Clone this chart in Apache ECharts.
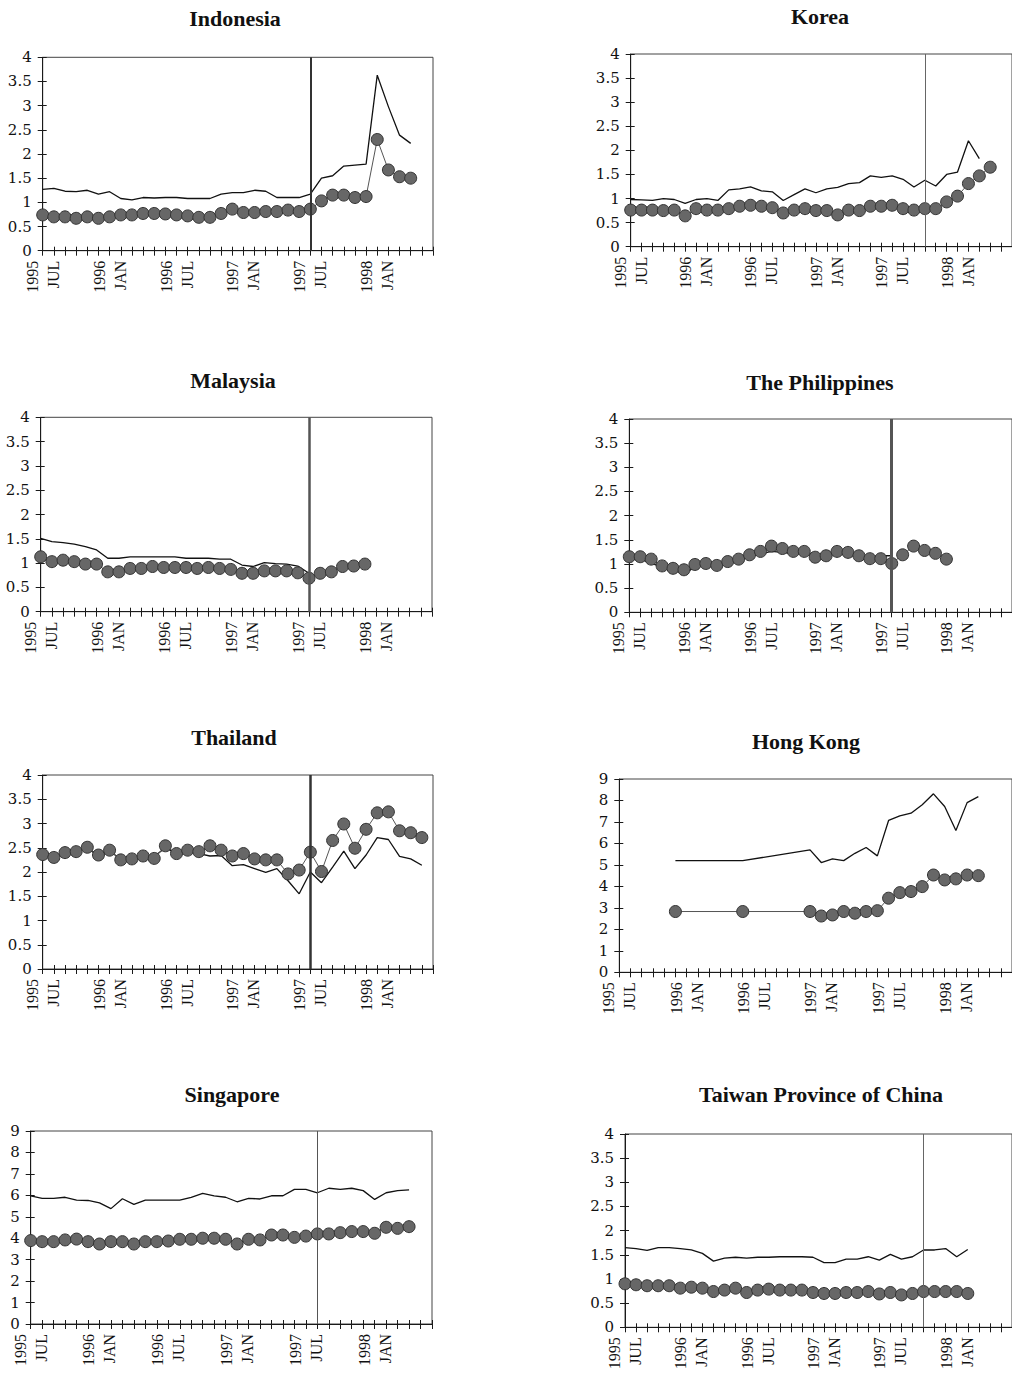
<!DOCTYPE html>
<html><head><meta charset="utf-8">
<script src="https://cdn.jsdelivr.net/npm/echarts@6/dist/echarts.min.js"></script>
<style>html,body{margin:0;padding:0;background:#fff}#c{width:1012px;height:1374px}</style>
</head><body><div id="c"></div>
<script>
const months = ['1995-07','1995-08','1995-09','1995-10','1995-11','1995-12',
 '1996-01','1996-02','1996-03','1996-04','1996-05','1996-06',
 '1996-07','1996-08','1996-09','1996-10','1996-11','1996-12',
 '1997-01','1997-02','1997-03','1997-04','1997-05','1997-06',
 '1997-07','1997-08','1997-09','1997-10','1997-11','1997-12',
 '1998-01','1998-02','1998-03','1998-04','1998-05','1998-06'];
const tickLabels = {'1995-07':'1995\nJUL','1996-01':'1996\nJAN','1996-07':'1996\nJUL','1997-01':'1997\nJAN','1997-07':'1997\nJUL','1998-01':'1998\nJAN'};

const idnLine = [1.27,1.29,1.23,1.22,1.25,1.17,1.22,1.08,1.05,1.10,1.09,1.10,1.10,1.08,1.08,1.08,1.17,1.20,1.20,1.25,1.23,1.10,1.10,1.10,1.17,1.50,1.55,1.75,1.77,1.79,3.63,2.98,2.39,2.22];
const idnDots = [0.74,0.70,0.70,0.67,0.70,0.67,0.70,0.74,0.74,0.77,0.77,0.76,0.74,0.72,0.69,0.69,0.77,0.86,0.79,0.79,0.81,0.81,0.84,0.81,0.86,1.03,1.15,1.15,1.10,1.12,2.30,1.67,1.53,1.50];

const korLine = [0.98,0.97,0.96,1.00,0.98,0.90,0.98,1.00,0.96,1.18,1.20,1.24,1.16,1.14,0.96,1.08,1.20,1.12,1.20,1.23,1.31,1.33,1.47,1.44,1.47,1.40,1.24,1.38,1.26,1.50,1.55,2.20,1.83];
const korDots = [0.76,0.76,0.76,0.75,0.76,0.64,0.79,0.76,0.76,0.79,0.84,0.86,0.84,0.81,0.70,0.76,0.79,0.75,0.75,0.66,0.76,0.75,0.84,0.84,0.86,0.79,0.76,0.79,0.79,0.93,1.05,1.31,1.47,1.65];

const mysLine = [1.51,1.44,1.42,1.39,1.34,1.27,1.10,1.10,1.13,1.13,1.13,1.13,1.13,1.10,1.10,1.10,1.08,1.08,0.96,0.93,1.01,0.99,0.98,0.94,0.79];
const mysDots = [1.13,1.03,1.06,1.03,0.98,0.98,0.82,0.82,0.89,0.89,0.93,0.91,0.91,0.91,0.89,0.91,0.89,0.87,0.79,0.79,0.84,0.84,0.84,0.80,0.69,0.79,0.82,0.93,0.94,0.98];

const phlLine = [1.10,1.10,1.01,0.94,0.88,0.79,0.94,0.98,0.94,1.01,1.07,1.15,1.21,1.26,1.24,1.21,1.21,1.15,1.17,1.21,1.19,1.15,1.15,1.17,1.17];
const phlDots = [1.15,1.15,1.10,0.96,0.91,0.88,0.99,1.01,0.97,1.05,1.10,1.19,1.26,1.37,1.32,1.26,1.26,1.14,1.17,1.26,1.24,1.17,1.11,1.11,1.01,1.19,1.37,1.28,1.22,1.10];

const thaLine = [2.36,2.30,2.40,2.42,2.49,2.33,2.44,2.26,2.27,2.33,2.32,2.50,2.38,2.42,2.38,2.33,2.34,2.13,2.15,2.07,1.99,2.07,1.82,1.55,2.00,1.78,2.10,2.43,2.07,2.35,2.71,2.67,2.32,2.27,2.14];
const thaDots = [2.36,2.30,2.40,2.42,2.51,2.35,2.45,2.25,2.27,2.33,2.28,2.54,2.38,2.45,2.42,2.54,2.45,2.33,2.38,2.27,2.25,2.25,1.96,2.04,2.41,2.01,2.65,2.99,2.49,2.88,3.22,3.24,2.85,2.81,2.71];

const hkgLine = [null,null,null,null,null,5.2,null,null,null,null,null,5.2,null,null,null,null,null,5.7,5.11,5.28,5.2,5.54,5.81,5.42,7.07,7.28,7.41,7.8,8.31,7.72,6.6,7.9,8.18];
const hkgDots = [null,null,null,null,null,2.83,null,null,null,null,null,2.83,null,null,null,null,null,2.83,2.62,2.67,2.83,2.75,2.83,2.87,3.45,3.71,3.76,3.99,4.53,4.30,4.35,4.53,4.50];

const sgpLine = [5.97,5.86,5.86,5.91,5.78,5.76,5.65,5.38,5.84,5.58,5.78,5.78,5.78,5.78,5.91,6.09,5.97,5.91,5.70,5.86,5.83,5.98,5.98,6.28,6.28,6.12,6.33,6.28,6.33,6.22,5.81,6.12,6.22,6.25];
const sgpDots = [3.89,3.84,3.84,3.92,3.96,3.84,3.73,3.84,3.84,3.73,3.84,3.84,3.87,3.95,3.95,4.00,4.00,3.95,3.73,3.95,3.92,4.15,4.15,4.04,4.10,4.20,4.20,4.26,4.31,4.31,4.23,4.51,4.46,4.54];

const twnLine = [1.65,1.63,1.59,1.65,1.65,1.63,1.60,1.53,1.37,1.43,1.45,1.43,1.45,1.45,1.46,1.46,1.46,1.45,1.34,1.34,1.41,1.41,1.46,1.39,1.51,1.41,1.46,1.60,1.60,1.63,1.46,1.61];
const twnDots = [0.90,0.88,0.86,0.86,0.86,0.81,0.83,0.81,0.74,0.77,0.81,0.72,0.77,0.79,0.77,0.77,0.77,0.72,0.70,0.70,0.72,0.72,0.74,0.69,0.72,0.67,0.70,0.74,0.74,0.74,0.74,0.70];

const titles = ['Indonesia','Korea','Malaysia','The Philippines','Thailand','Hong Kong','Singapore','Taiwan Province of China'];
const crisisMonths = ['1997-07','1997-10','1997-07','1997-07','1997-07',null,'1997-08','1997-10'];
const yMax = [4,4,4,4,4,9,9,4];
const yStep = [0.5,0.5,0.5,0.5,0.5,1,1,0.5];

const panels = [
 {line:idnLine,dots:idnDots,l:42.7,t:57.3,w:390.3,h:193.4,tx:235,ty:18,vw:2,vc:'#333'},
 {line:korLine,dots:korDots,l:630.7,t:54,w:392,h:192.7,tx:820,ty:16,vw:1,vc:'#666'},
 {line:mysLine,dots:mysDots,l:40.7,t:417.3,w:391.3,h:194.4,tx:233,ty:380,vw:2.5,vc:'#555'},
 {line:phlLine,dots:phlDots,l:629.3,t:419,w:391,h:193.3,tx:820,ty:382,vw:3,vc:'#555'},
 {line:thaLine,dots:thaDots,l:42.7,t:775,w:390.3,h:194,tx:234,ty:737,vw:2.5,vc:'#333'},
 {line:hkgLine,dots:hkgDots,l:619.3,t:779,w:396.7,h:193.3,tx:806,ty:741,vw:1,vc:'#555'},
 {line:sgpLine,dots:sgpDots,l:30.7,t:1131,w:401.3,h:193,tx:232,ty:1094,vw:1,vc:'#555'},
 {line:twnLine,dots:twnDots,l:625,t:1134,w:393,h:193.3,tx:821,ty:1094,vw:1,vc:'#666'}
];

const FONT = '"Liberation Serif", "Times New Roman", serif';
const YFONT = '"DejaVu Serif", "Liberation Serif", serif';
const grid = [], xAxis = [], yAxis = [], series = [], graphic = [];
panels.forEach((p, i) => {
  grid.push({left:p.l, top:p.t, width:p.w, height:p.h, show:true, borderColor:'#444', borderWidth:1, backgroundColor:'transparent', containLabel:false});
  xAxis.push({gridIndex:i, type:'category', data:months, boundaryGap:false, position:'bottom',
    axisLine:{lineStyle:{color:'#1a1a1a', width:1}},
    axisTick:{show:true, interval:0, length:5, lineStyle:{color:'#1a1a1a'}},
    axisLabel:{interval:5, rotate:90, margin:10, fontFamily:FONT, fontSize:16, lineHeight:21, color:'#111',
      formatter:(v)=>tickLabels[v]||''},
    splitLine:{show:false}});
  xAxis.push({gridIndex:i, type:'category', data:months, boundaryGap:false, position:'bottom',
    axisLine:{show:false}, axisTick:{show:true, inside:true, interval:0, length:4, lineStyle:{color:'#1a1a1a'}},
    axisLabel:{show:false}, splitLine:{show:false}});
  yAxis.push({gridIndex:i, type:'value', min:0, max:yMax[i], interval:yStep[i], position:'left',
    axisLine:{show:true, lineStyle:{color:'#1a1a1a', width:1}},
    axisTick:{show:true, length:5, lineStyle:{color:'#1a1a1a'}},
    axisLabel:{margin:11, fontFamily:YFONT, fontSize:15, color:'#111'},
    splitLine:{show:false}});
  yAxis.push({gridIndex:i, type:'value', min:0, max:yMax[i], interval:yStep[i], position:'left',
    axisLine:{show:false}, axisTick:{show:true, inside:true, length:4, lineStyle:{color:'#1a1a1a'}},
    axisLabel:{show:false}, splitLine:{show:false}});
  const lineSeries = {type:'line', xAxisIndex:2*i, yAxisIndex:2*i, data:p.line, connectNulls:true,
    symbol:'none', lineStyle:{color:'#111', width:1.3}, silent:true, animation:false, z:3};
  if (crisisMonths[i]) {
    lineSeries.markLine = {symbol:['none','none'], silent:true, animation:false, label:{show:false},
      lineStyle:{type:'solid', color:p.vc, width:p.vw}, data:[{xAxis:crisisMonths[i]}]};
  }
  series.push(lineSeries);
  series.push({type:'line', xAxisIndex:2*i, yAxisIndex:2*i, data:p.dots, connectNulls:true,
    symbol:'circle', symbolSize:12, showAllSymbol:true,
    lineStyle:{color:'#555', width:1},
    itemStyle:{color:'#676767', borderColor:'#333', borderWidth:1},
    silent:true, animation:false, z:4});
  graphic.push({type:'text', x:p.tx, y:p.ty, silent:true,
    style:{text:titles[i], textAlign:'center', textVerticalAlign:'middle', fill:'#111',
      font:'bold 22px ' + FONT}});
});

const chart = echarts.init(document.getElementById('c'), null, {renderer:'svg'});
chart.setOption({animation:false, backgroundColor:'#fff', grid, xAxis, yAxis, series, graphic});
</script></body></html>
